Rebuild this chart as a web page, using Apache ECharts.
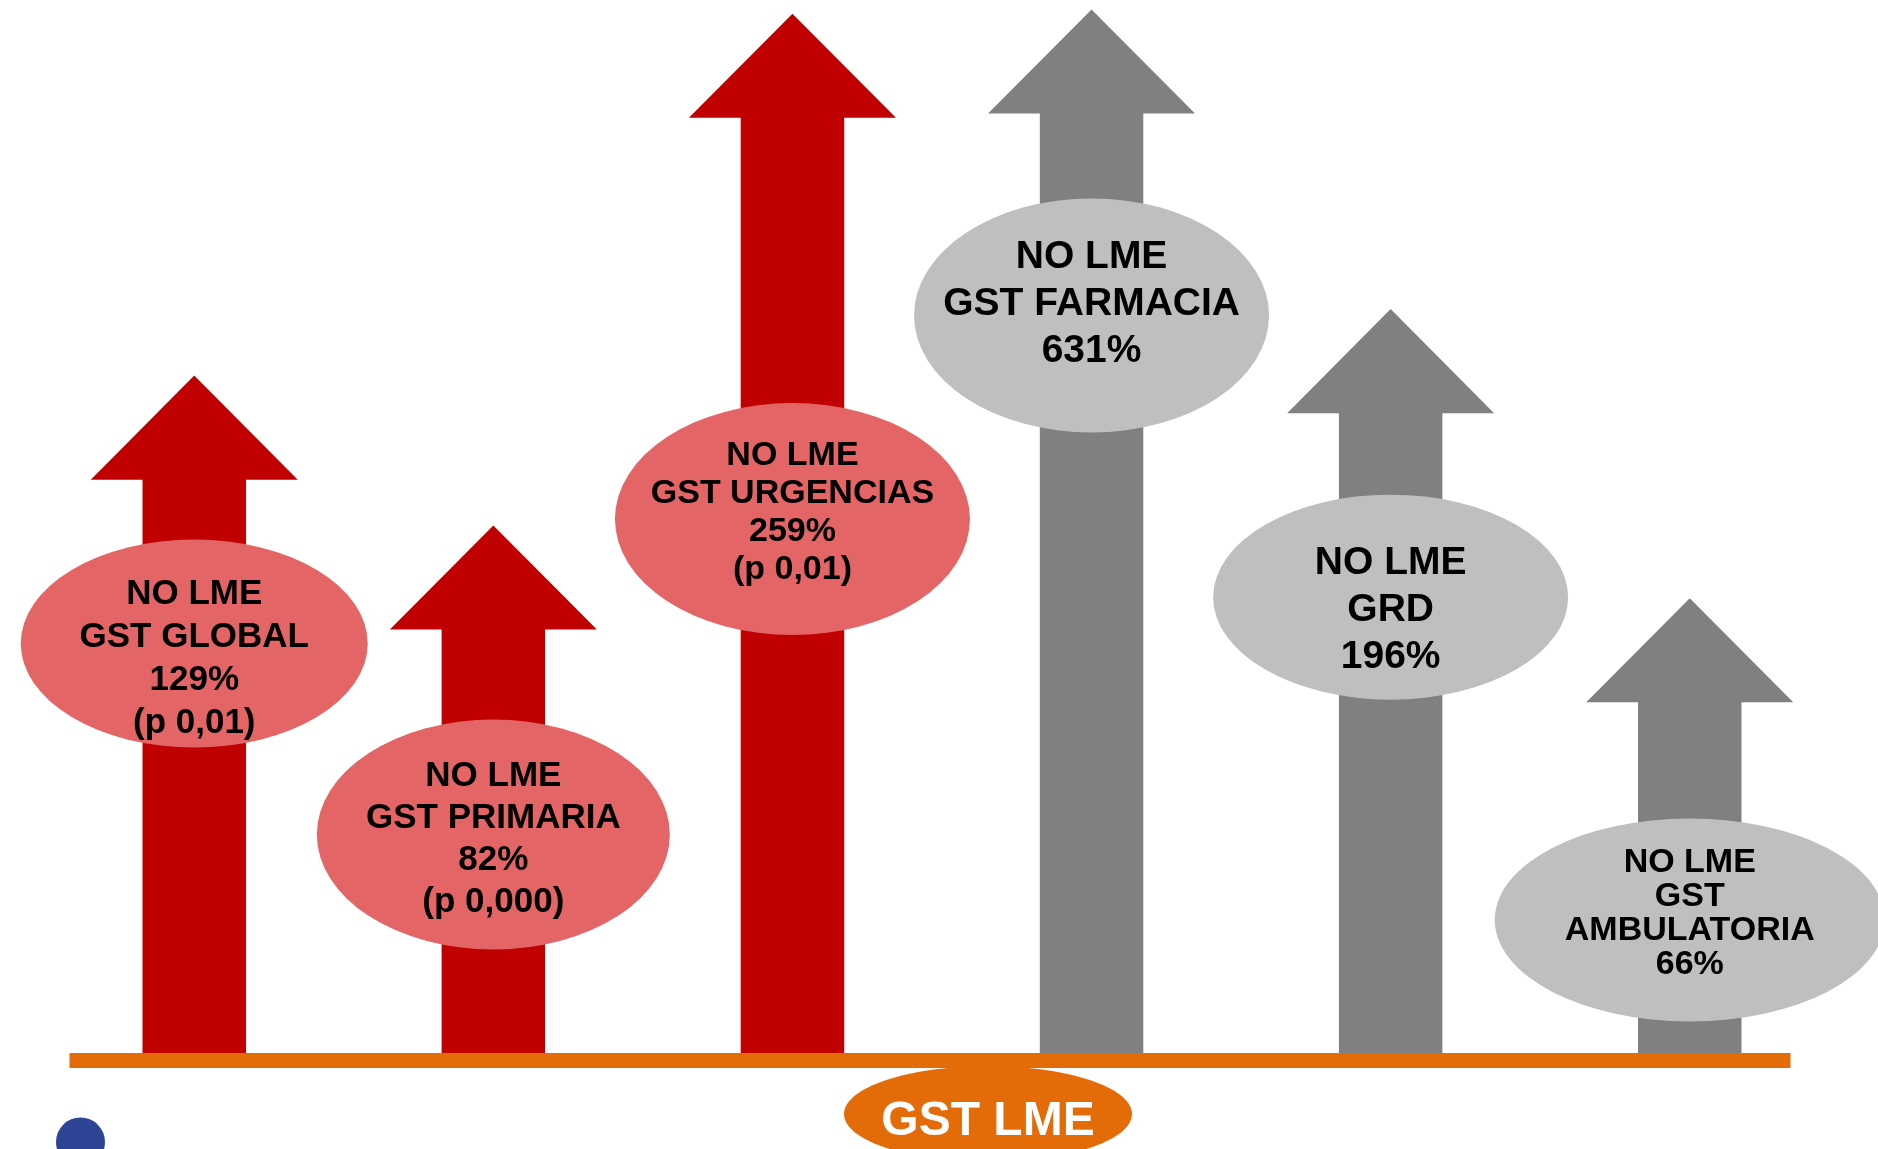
<!DOCTYPE html>
<html>
<head>
<meta charset="utf-8">
<title>GST LME</title>
<script src="https://cdn.jsdelivr.net/npm/echarts@6/dist/echarts.min.js"></script>
<style>
    html, body { margin: 0; padding: 0; background: #fff; }
    #chart { width: 1878px; height: 1149px; }
</style>
</head>
<body>
<div id="chart"></div>
<script>
// datos: una flecha por grupo, altura relativa en escala 0-100
var categories = ['GST GLOBAL', 'GST PRIMARIA', 'GST URGENCIAS', 'GST FARMACIA', 'GRD', 'GST AMBULATORIA']
var bubbleNames = ['GST GLOBAL', 'GST PRIMARIA', 'GST URGENCIAS', 'GST FARMACIA', 'GRD', 'GST\nAMBULATORIA']
var increase = ['129%', '82%', '259%', '631%', '196%', '66%']
var pValues = ['(p 0,01)', '(p 0,000)', '(p 0,01)', '', '', '']
var arrowHeight = [64.4, 50.2, 98.7, 99.1, 70.7, 43.3]
var significant = [true, true, true, false, false, false]

// maquetacion de las elipses
var bubbleLevel = [39.0, 20.9, 50.8, 70.1, 43.4, 12.8]
var bubbleSize = [[347, 208], [353, 230], [355, 232], [355, 234], [355, 205], [390, 203]]
var bubbleFont = [[35, 43], [35, 42], [34, 38], [39, 47], [39, 47], [34, 34]]
var bubbleOffset = [15, 5, -6, -11, 13, -6]

var FONT = '"Liberation Sans", Arial, sans-serif'

function renderArrow(params, api) {
    var base = api.coord([api.value(0), 0])
    var tip = api.coord([api.value(0), api.value(1)])
    var band = api.size([1, 0])[0]
    var shaft = band * 0.173
    var head = band * 0.346
    var headH = band * 0.348
    var x = tip[0]
    var y = tip[1]
    return {
        type: 'polygon',
        shape: {
            points: [
                [x, y], [x + head, y + headH], [x + shaft, y + headH],
                [x + shaft, base[1]], [x - shaft, base[1]],
                [x - shaft, y + headH], [x - head, y + headH]
            ]
        },
        style: { fill: significant[params.dataIndex] ? '#c00000' : '#808080' }
    }
}

var chart = echarts.init(document.getElementById('chart'))
var option = {
    animation: false,
    backgroundColor: '#ffffff',
    grid: { left: 44.7, right: 38.7, top: 0, bottom: 94 },
    xAxis: { type: 'category', data: categories, show: false },
    yAxis: { type: 'value', min: 0, max: 100, show: false },
    series: [
        {
            type: 'custom',
            renderItem: renderArrow,
            z: 2,
            data: arrowHeight.map(function (v, i) { return [i, v] })
        },
        {
            type: 'scatter',
            symbol: 'circle',
            z: 3,
            data: categories.map(function (c, i) {
                return {
                    value: [i, bubbleLevel[i]],
                    symbolSize: bubbleSize[i],
                    itemStyle: { color: significant[i] ? '#e46565' : '#bfbfbf', opacity: 1 },
                    label: {
                        fontSize: bubbleFont[i][0],
                        lineHeight: bubbleFont[i][1],
                        offset: [0, bubbleOffset[i]]
                    }
                }
            }),
            label: {
                show: true,
                position: 'inside',
                color: '#000',
                fontWeight: 'bold',
                fontFamily: FONT,
                align: 'center',
                formatter: function (p) {
                    var i = p.dataIndex
                    var t = 'NO LME\n' + bubbleNames[i] + '\n' + increase[i]
                    if (pValues[i]) t += '\n' + pValues[i]
                    return t
                }
            },
            emphasis: { disabled: true }
        }
    ],
    graphic: [
        {
            type: 'rect',
            z: 10,
            shape: { x: 69.5, y: 1053, width: 1721, height: 15 },
            style: { fill: '#e36c09' }
        },
        {
            type: 'ellipse',
            z: 10,
            shape: { cx: 988, cy: 1114, rx: 144, ry: 48 },
            style: { fill: '#e36c09' }
        },
        {
            type: 'text',
            z: 11,
            x: 988,
            y: 1122,
            style: {
                text: 'GST LME',
                fill: '#fff',
                font: 'bold 48px ' + FONT,
                textAlign: 'center',
                textVerticalAlign: 'middle'
            }
        },
        {
            type: 'circle',
            z: 10,
            shape: { cx: 80.5, cy: 1142, r: 24.5 },
            style: { fill: '#2e4596' }
        }
    ]
}
chart.setOption(option)
</script>
</body>
</html>
